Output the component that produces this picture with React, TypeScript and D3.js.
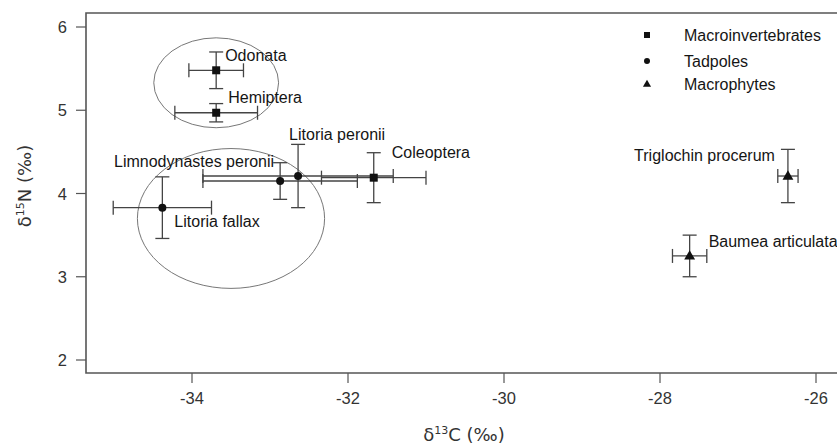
import * as d3 from 'd3';

// isotope values (mean ± SD)
const species = ['Odonata', 'Hemiptera', 'Coleoptera', 'Limnodynastes peronii', 'Litoria peronii', 'Litoria fallax', 'Triglochin procerum', 'Baumea articulata'];
const groups = ['Macroinvertebrates', 'Macroinvertebrates', 'Macroinvertebrates', 'Tadpoles', 'Tadpoles', 'Tadpoles', 'Macrophytes', 'Macrophytes'];
const d13C = [-33.69, -33.69, -31.67, -32.87, -32.64, -34.38, -26.36, -27.62];
const d15N = [5.48, 4.97, 4.19, 4.15, 4.21, 3.83, 4.21, 3.25];
const sdC = [0.35, 0.53, 0.67, 0.99, 1.22, 0.63, 0.13, 0.22];
const sdN = [0.22, 0.11, 0.30, 0.22, 0.38, 0.37, 0.32, 0.25];

const legendGroups = ['Macroinvertebrates', 'Tadpoles', 'Macrophytes'];
const xTicks = [-34, -32, -30, -28, -26];
const yTicks = [2, 3, 4, 5, 6];

// grouping ellipses: centre C, centre N, radius C, radius N
const ellipses = [
    [-33.69, 5.33, 0.80, 0.54],
    [-33.5, 3.70, 1.2, 0.84]
];

// label placement relative to the point (px), anchor
const labelPos: [number, number, string][] = [
    [9, -9, 'start'],
    [12, -10, 'start'],
    [18, -20, 'start'],
    [-6, -14, 'end'],
    [-9, -36, 'start'],
    [12, 19, 'start'],
    [-13, -15, 'end'],
    [19, -9, 'start']
];

const W = 837;
const H = 444;
const left = 86, top = 13, bottom = 373;

const x = d3.scaleLinear().domain([-34, -26]).range([192, 816]);
const y = d3.scaleLinear().domain([2, 6]).range([360, 27]);

const ink = '#151515';
const lineCol = '#444';
const font = "'Liberation Sans', Arial, sans-serif";
const titleFont = "'DejaVu Sans', sans-serif";

const Marker = ({ group, cx, cy, s }: any) => {
    if (group === 'Macroinvertebrates') {
        return <rect x={cx - s} y={cy - s} width={s * 2} height={s * 2} fill="#111" />;
    }
    if (group === 'Tadpoles') {
        return <circle cx={cx} cy={cy} r={s} fill="#111" />;
    }
    const tri = d3.symbol().type(d3.symbolTriangle).size(s * s * 3.2)();
    return <path d={tri as string} transform={`translate(${cx},${cy + 0.5})`} fill="#111" />;
};

export default function App() {
    const cap = 7;
    return (
        <svg width={W} height={H} style={{ position: 'absolute', left: 0, top: 0, background: '#fff' }} fontFamily={font}>
            {/* frame */}
            <path d={`M${W},${top}H${left}V${bottom}H${W}`} fill="none" stroke="#555" strokeWidth={1.6} />

            {/* y axis */}
            {yTicks.map((t) => (
                <g key={'y' + t}>
                    <line x1={left - 10} x2={left} y1={y(t)} y2={y(t)} stroke="#555" strokeWidth={1.2} />
                    <text x={67} y={y(t) + 6} textAnchor="end" fontSize={16.5} fill="#333">{t}</text>
                </g>
            ))}
            {/* x axis */}
            {xTicks.map((t) => (
                <g key={'x' + t}>
                    <line x1={x(t)} x2={x(t)} y1={bottom} y2={bottom + 10} stroke="#555" strokeWidth={1.2} />
                    <text x={x(t)} y={404} textAnchor="middle" fontSize={16.5} fill="#333">{t}</text>
                </g>
            ))}

            <text x={464} y={441} textAnchor="middle" fontSize={18} fill="#333" fontFamily={titleFont}>
                δ<tspan fontSize={11} dy={-7}>13</tspan><tspan dy={7}>C (‰)</tspan>
            </text>
            <text transform="translate(31,186) rotate(-90)" textAnchor="middle" fontSize={18} fill="#333" fontFamily={titleFont}>
                δ<tspan fontSize={11} dy={-7}>15</tspan><tspan dy={7}>N (‰)</tspan>
            </text>

            {/* ellipses */}
            {ellipses.map((e, i) => (
                <ellipse key={'e' + i} cx={x(e[0])} cy={y(e[1])}
                    rx={x(e[0] + e[2]) - x(e[0])} ry={y(e[1] - e[3]) - y(e[1])}
                    fill="none" stroke="#777" strokeWidth={1} />
            ))}

            {/* error bars */}
            {species.map((sp, i) => {
                const cx = x(d13C[i]), cy = y(d15N[i]);
                const x0 = x(d13C[i] - sdC[i]), x1 = x(d13C[i] + sdC[i]);
                const y0 = y(d15N[i] + sdN[i]), y1 = y(d15N[i] - sdN[i]);
                return (
                    <g key={'eb' + sp} stroke={lineCol} strokeWidth={1.3} fill="none">
                        <line x1={x0} x2={x1} y1={cy} y2={cy} />
                        <line x1={x0} x2={x0} y1={cy - cap} y2={cy + cap} />
                        <line x1={x1} x2={x1} y1={cy - cap} y2={cy + cap} />
                        <line x1={cx} x2={cx} y1={y0} y2={y1} />
                        <line x1={cx - cap} x2={cx + cap} y1={y0} y2={y0} />
                        <line x1={cx - cap} x2={cx + cap} y1={y1} y2={y1} />
                    </g>
                );
            })}

            {/* points */}
            {species.map((sp, i) => (
                <Marker key={'m' + sp} group={groups[i]} cx={x(d13C[i])} cy={y(d15N[i])} s={4} />
            ))}

            {/* labels */}
            {species.map((sp, i) => (
                <text key={'l' + sp} x={x(d13C[i]) + labelPos[i][0]} y={y(d15N[i]) + labelPos[i][1]}
                    textAnchor={labelPos[i][2] as any} fontSize={16} fill={ink}>{sp}</text>
            ))}

            {/* legend */}
            {legendGroups.map((g, i) => {
                const ly = [35, 61, 84][i];
                return (
                    <g key={'lg' + g}>
                        <Marker group={g} cx={647} cy={ly} s={3} />
                        <text x={684} y={ly + 6} fontSize={16} fill={ink}>{g}</text>
                    </g>
                );
            })}
        </svg>
    );
}
